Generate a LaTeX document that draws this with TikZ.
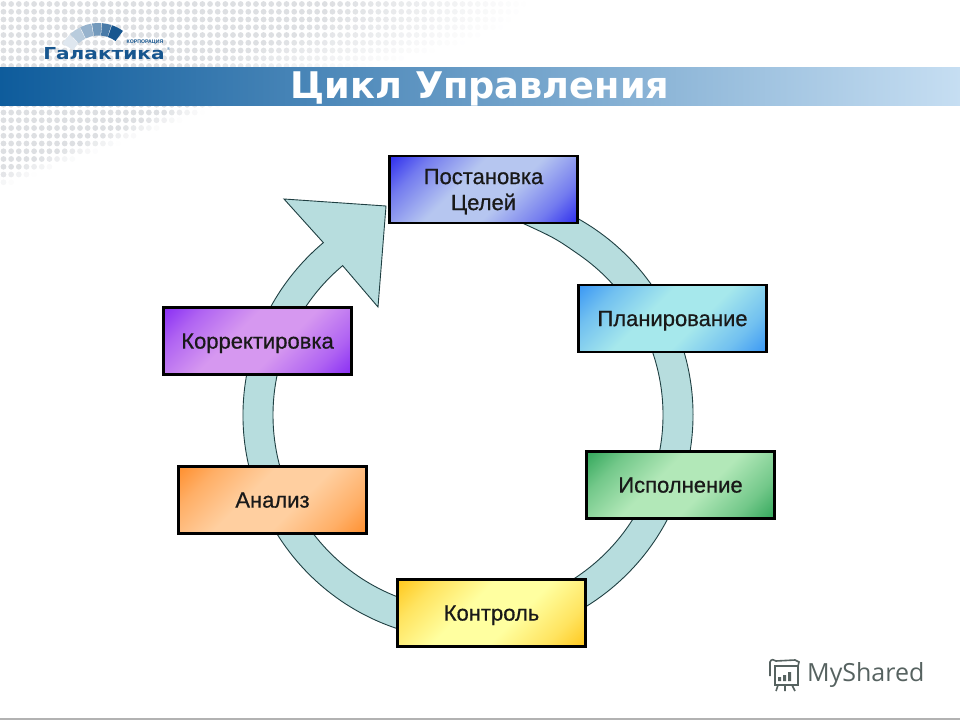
\documentclass[tikz,border=0pt]{standalone}
\usepackage{fontspec}
\usepackage{xcolor}
\setmainfont{Liberation Sans}
\newfontfamily\boxfont[FakeBold=0.6]{Liberation Sans}
\newfontfamily\titlefont{DejaVu Sans}
\newfontfamily\logofont[FakeStretch=1.22]{DejaVu Sans}
\newfontfamily\markfont{Open Sans}
\usetikzlibrary{positioning}

\definecolor{ringfill}{HTML}{B7DDDE}
\definecolor{ringline}{HTML}{1F3F42}
\definecolor{dotgray}{HTML}{DDDFE2}
\definecolor{bandleft}{HTML}{0E5C9C}
\definecolor{bandmid}{HTML}{4686BC}
\definecolor{bandright}{HTML}{C6DEF2}
\definecolor{logoblue}{HTML}{17568F}
\definecolor{markgray}{HTML}{566260}

\newcommand{\makeshade}[3]{%
  \definecolor{#1dark}{HTML}{#2}\definecolor{#1pale}{HTML}{#3}%
  \pgfdeclareverticalshading{#1}{100bp}{color(0bp)=(#1dark); color(15bp)=(#1dark); color(26bp)=(#1dark!50!#1pale); color(42bp)=(#1pale); color(58bp)=(#1pale); color(74bp)=(#1dark!50!#1pale); color(85bp)=(#1dark); color(100bp)=(#1dark)}}
\makeshade{goalshade}{3030EE}{B6C6F0}
\makeshade{planshade}{3C98F4}{A6E8EC}
\makeshade{execshade}{34A85C}{B2E8B8}
\makeshade{ctrlshade}{FFC81E}{FFFFA0}
\makeshade{anshade}{FF9030}{FFCFA0}
\makeshade{fixshade}{8A30F4}{D698F0}

\tikzset{
  stagebox/.style={draw=black, line width=2.2pt, minimum width=188pt, minimum height=67pt, inner sep=0pt, align=center, text depth=0pt, shading angle=45, font=\boxfont\fontsize{22}{26}\selectfont, text=black!90},
  ringshape/.style={fill=ringfill, draw=ringline, line width=.9pt},
  markline/.style={draw=markgray, line width=1.6pt}
}

\begin{document}
\begin{tikzpicture}[x=1pt, y=-1pt]
    \useasboundingbox (0,0) rectangle (960,720);
    \foreach \i in {0,...,72} {
        \foreach \j in {0,...,24} {
            \pgfmathsetmacro{\dx}{3.5+7.65*\i}
            \pgfmathsetmacro{\dy}{4+7.75*\j}
            \pgfmathsetmacro{\dop}{\dy<67 ? min(1,(530-0.035*\dy*\dy-\dx)/200) : min(1,(210-2.7*(\dy-110)-\dx)/40)}
            \ifdim\dop pt>0pt
                \fill[dotgray, opacity=\dop] (\dx,\dy) circle (2.9);
            \fi
        }
    }
    \fill[left color=bandleft, middle color=bandmid, right color=bandright] (0,67) rectangle (960,105);
    \node[text=white, font=\titlefont\bfseries\fontsize{36.7}{38}\selectfont, inner sep=0pt, anchor=base] (title) at (480,98) {Цикл Управления};

    \foreach \a/\b/\s in {150/134/14, 133/117/30, 116/100/45, 99/86/60, 85/72/78, 71/54/100} {
        \fill[logoblue!\s!white] ([shift={(-\a:41.5)}]98.5,64.5) arc[start angle=-\a, end angle=-\b, radius=41.5] -- ([shift={(-\b:29)}]98.5,64.5) arc[start angle=-\b, end angle=-\a, radius=29] -- cycle;
    }
    \node[text=logoblue, font=\logofont\bfseries\fontsize{16.5}{18}\selectfont, inner sep=0pt, anchor=base] (logo) at (104,59.5) {Галактика};
    \node[text=logoblue, font=\bfseries\fontsize{5.2}{5}\selectfont, inner sep=0pt] (logotop) at (145,42) {КОРПОРАЦИЯ};
    \node[text=logoblue, font=\fontsize{4}{4}\selectfont, inner sep=0pt] (logoreg) at (168.5,49) {®};

    \coordinate (ringa) at ([shift={(-80:225)}]468,415);
    \coordinate (ringb) at ([shift={(230:195)}]468,415);
    \draw[ringshape] (ringa) arc[start angle=-80, end angle=230, radius=225] -- (284,199) -- (386,206) -- (378,307) -- (ringb) arc[start angle=230, end angle=-55, radius=195] .. controls (555,238) .. (520,222) -- cycle;

    \foreach \x/\y/\boxn/\sname/\txt in {
        483.5/189.5/goal/goalshade/{Постановка\\Целей},
        672.5/318.5/plan/planshade/Планирование,
        680.5/485/exec/execshade/Исполнение,
        491.5/613/ctrl/ctrlshade/Контроль,
        272.5/500/analysis/anshade/Анализ,
        257.5/341/fix/fixshade/Корректировка} {
        \node[stagebox, shading=\sname] (\boxn) at (\x,\y) {\txt};
    }

    \draw[markline] (775,666) rectangle (798,685);
    \draw[markline] (770,676) -- (770,662) .. controls (771,659) and (774,659) .. (776,661) -- (795,660) -- (799,662) -- (798,666);
    \draw[markline] (778,685) -- (776,691) (785,685) -- (785,691) (792,685) -- (795,691);
    \fill[markgray] (778,677) rectangle (781,681) (783,675) rectangle (786,681) (788,672) rectangle (791,681);
    \node[text=markgray, font=\markfont\fontsize{25}{25}\selectfont, inner sep=0pt, anchor=west] (mark) at (807,675) {MyShared};

    \fill[black!30] (0,718) rectangle (960,720);
\end{tikzpicture}
\end{document}
